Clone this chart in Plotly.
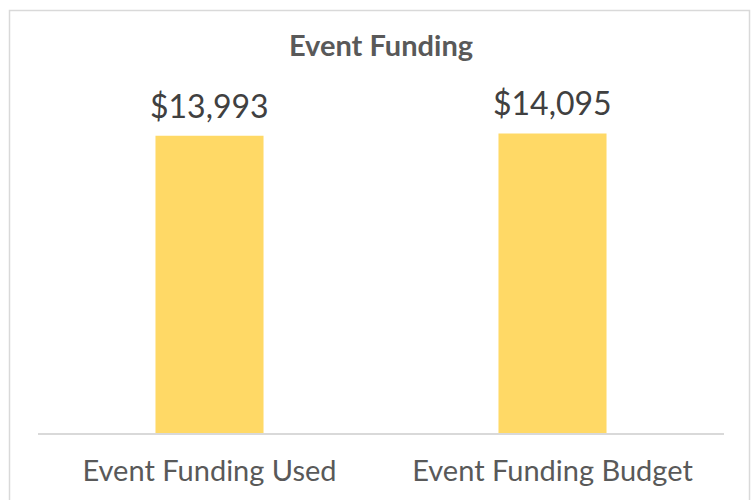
import plotly.graph_objects as go

categories = ["Event Funding Used", "Event Funding Budget"]
values = [13993, 14095]
labels = ["$13,993", "$14,095"]

W, H = 755, 500
L, R, T, B = 38, 31, 93, 67
pw, ph = W - L - R, H - T - B
FONT = "Lato, Calibri, sans-serif"

fig = go.Figure(go.Bar(
    x=categories, y=values,
    marker=dict(color="#FFD966", line=dict(width=0)),
    hoverinfo="skip",
))

for c, v, t in zip(categories, values, labels):
    fig.add_annotation(x=c, y=v, text=t, showarrow=False, yanchor="bottom",
                       yshift=9, font=dict(family=FONT, size=32, color="#404040"))

def px_x(p):
    return (p - L) / pw

def px_y(p):
    return (H - B - p) / ph

fig.add_shape(type="rect", xref="paper", yref="paper",
              x0=px_x(9.5), x1=px_x(749.5), y0=px_y(520), y1=px_y(10.5),
              line=dict(color="#D9D9D9", width=1.5), fillcolor="rgba(0,0,0,0)", layer="below")

fig.update_layout(
    width=W, height=H,
    margin=dict(l=L, r=R, t=T, b=B, autoexpand=False),
    paper_bgcolor="white", plot_bgcolor="white",
    bargap=0.685,
    showlegend=False,
    title=dict(text="<b>Event Funding</b>", x=(L + pw / 2) / W, xanchor="center",
               y=1 - 46 / H, yanchor="middle",
               font=dict(family=FONT, size=29, color="#595959")),
    xaxis=dict(showline=True, linecolor="#D9D9D9", linewidth=1.5, ticks="", showgrid=False,
               tickfont=dict(family=FONT, size=29, color="#595959"),
               ticklabelstandoff=12, fixedrange=True, automargin=False),
    yaxis=dict(range=[0, 16000], visible=False, showgrid=False, zeroline=False, fixedrange=True),
)

fig.write_html("out.html", config={"displayModeBar": False, "staticPlot": True},
               post_script="document.body.style.margin='0';document.body.style.padding='0';")
